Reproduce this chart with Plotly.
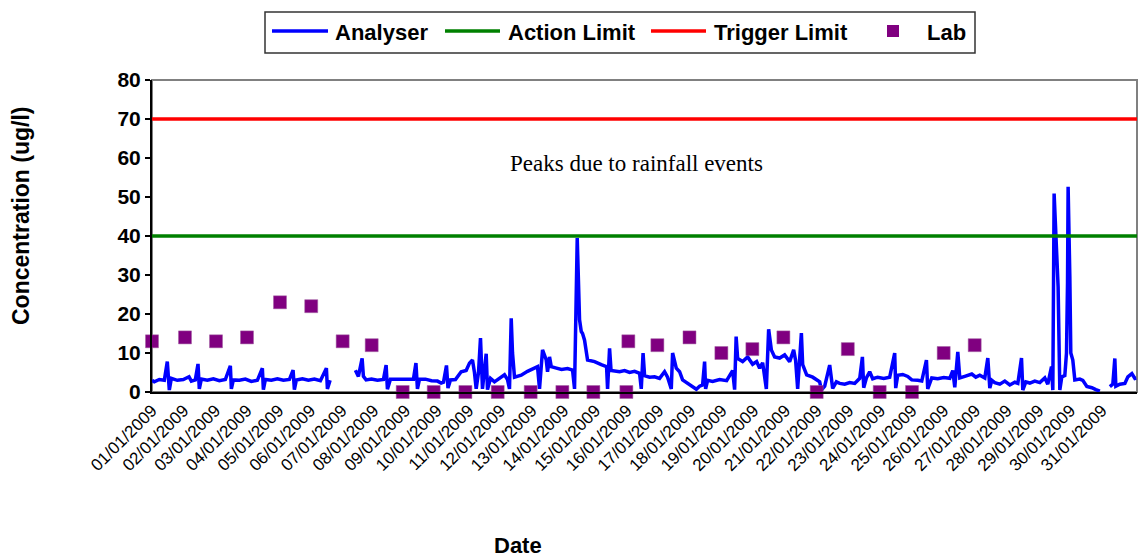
import pandas as pd
import plotly.graph_objects as go

# ---- data ----
start = pd.Timestamp("2009-01-01")
tick_dates = pd.date_range("2009-01-01", "2009-01-31", freq="D")

# Analyser: time as days since 01/01/2009 00:00, value in ug/l (None = no data)
analyser_days = [
    0.000, 0.073, 0.231, 0.389, 0.483, 0.515, 0.547, 0.610, 0.799, 0.989,
    1.169, 1.242, 1.368, 1.453, 1.494, 1.558, 1.747, 1.937, 2.126, 2.316,
    2.474, 2.506, 2.569, 2.758, 2.948, 3.137, 3.327, 3.485, 3.517, 3.580,
    3.769, 3.959, 4.149, 4.338, 4.455, 4.496, 4.559, 4.749, 4.938, 5.128,
    5.318, 5.507, 5.539, 5.624, 6.000,
    6.423, 6.518, 6.635, 6.676, 6.761, 6.929, 7.118, 7.308, 7.393, 7.434,
    7.529, 7.719, 7.908, 8.098, 8.256, 8.335, 8.382, 8.446, 8.635, 8.825,
    9.014, 9.131, 9.204, 9.299, 9.346, 9.425, 9.583, 9.763, 9.921, 10.025,
    10.120, 10.183, 10.237, 10.310, 10.373, 10.436, 10.553, 10.594, 10.689, 10.815,
    10.973, 11.131, 11.226, 11.289, 11.343, 11.384, 11.447, 11.659, 11.858, 12.047,
    12.174, 12.237, 12.332, 12.449, 12.490, 12.553, 12.607, 12.743, 12.932, 13.122,
    13.280, 13.343, 13.428, 13.501, 13.555, 13.596, 13.659, 13.754, 13.975, 14.187,
    14.354, 14.386, 14.449, 14.496, 14.607, 14.765, 14.923, 15.081, 15.239, 15.397,
    15.450, 15.507, 15.555, 15.713, 15.870, 16.028, 16.186, 16.281, 16.398, 16.439,
    16.556, 16.660, 16.755, 16.976, 17.188, 17.292, 17.387, 17.450, 17.482, 17.545,
    17.703, 17.924, 18.146, 18.240, 18.335, 18.398, 18.446, 18.493, 18.651, 18.809,
    18.967, 19.093, 19.188, 19.283, 19.400, 19.472, 19.558, 19.662, 19.820, 19.978,
    20.041, 20.136, 20.262, 20.325, 20.389, 20.506, 20.547, 20.673, 20.863, 21.084,
    21.137, 21.242, 21.400, 21.453, 21.494, 21.611, 21.716, 21.874, 22.032, 22.190,
    22.348, 22.433, 22.474, 22.559, 22.663, 22.758, 22.916, 23.106, 23.295, 23.453,
    23.485, 23.548, 23.706, 23.864, 23.991, 24.180, 24.307, 24.455, 24.496, 24.623,
    24.812, 25.002, 25.192, 25.287, 25.350, 25.445, 25.508, 25.666, 25.887, 26.014,
    26.140, 26.298, 26.393, 26.456, 26.519, 26.614, 26.772, 26.930, 27.088, 27.246,
    27.341, 27.457, 27.498, 27.593, 27.719, 27.877, 28.035, 28.193, 28.288, 28.405,
    28.446, 28.487, 28.613, 28.667, 28.730, 28.825, 28.878, 28.910, 28.929, 28.983,
    29.014, 29.077, 29.141, 29.299, 29.393, 29.520, 29.678, 29.804, 29.931, 30.100,
    30.247, 30.341, 30.404, 30.436, 30.563, 30.721, 30.816, 30.942, 31.037, 31.080,
]
analyser_vals = [
    3.0, 2.6, 3.2, 3.0, 7.8, 5.0, 0.5, 3.5, 3.0, 3.2,
    3.9, 2.8, 3.1, 7.2, 0.8, 3.3, 3.0, 3.4, 2.9, 3.2,
    6.7, 0.8, 3.1, 3.0, 3.3, 2.7, 3.0, 6.1, 0.6, 3.2,
    3.0, 3.4, 3.0, 3.2, 5.6, 0.6, 3.1, 3.4, 3.0, 3.3,
    2.9, 6.1, 0.8, 3.0, None,
    5.6, 4.0, 8.6, 4.0, 3.1, 3.3, 3.0, 3.2, 6.9, 0.7,
    3.3, 3.3, 3.4, 3.2, 3.3, 7.4, 0.8, 3.3, 3.3, 2.9,
    2.8, 2.3, 2.5, 6.8, 1.0, 3.1, 3.2, 5.2, 5.5, 7.4,
    8.2, 5.0, 0.8, 5.0, 13.8, 0.8, 9.8, 0.6, 3.5, 2.6,
    3.4, 4.4, 3.2, 0.8, 18.9, 10.0, 3.8, 4.3, 5.3, 6.0,
    6.5, 0.8, 10.8, 8.2, 5.2, 9.0, 6.5, 6.2, 5.8, 6.0,
    5.6, 0.8, 39.5, 18.5, 15.5, 15.0, 13.3, 8.2, 7.8, 7.0,
    6.5, 0.8, 11.2, 5.5, 5.4, 5.2, 5.5, 5.0, 5.3, 4.8,
    0.8, 10.0, 4.2, 3.8, 3.9, 3.5, 5.2, 3.8, 0.8, 10.0,
    6.1, 5.2, 3.1, 1.8, 0.7, 1.5, 1.8, 7.8, 0.8, 3.0,
    2.7, 3.2, 2.9, 4.2, 5.5, 0.6, 14.2, 8.6, 7.8, 9.0,
    7.1, 7.8, 6.1, 7.5, 0.8, 16.1, 10.8, 9.0, 8.7, 9.5,
    8.8, 7.8, 10.8, 8.0, 0.8, 15.1, 7.0, 4.4, 3.8, 2.6,
    0.5, 1.5, 6.9, 3.1, 0.9, 2.6, 2.2, 2.0, 2.4, 2.2,
    3.5, 9.0, 1.1, 3.6, 5.2, 3.4, 3.8, 3.5, 3.8, 10.0,
    1.0, 4.3, 4.5, 4.0, 3.1, 3.0, 2.8, 8.2, 0.8, 3.6,
    3.4, 3.7, 3.5, 5.5, 1.2, 10.3, 3.6, 4.0, 4.6, 3.8,
    4.3, 3.6, 8.7, 1.0, 3.0, 2.4, 2.0, 2.8, 1.8, 2.5,
    2.2, 8.7, 0.5, 2.6, 2.3, 2.8, 2.4, 3.6, 2.0, 6.5,
    0.5, 50.9, 27.0, 0.5, 3.9, 4.2, 10.0, 28.0, 52.6, 29.6,
    10.0, 8.2, 3.1, 3.3, 3.0, 1.4, 1.1, 0.6, 0.2, None,
    1.4, 2.0, 8.6, 1.5, 2.0, 2.2, 3.9, 4.7, 3.5, 3.6,
]

# Lab samples
lab_dates = [
    "2009-01-01 00:00", "2009-01-02 01:00", "2009-01-03 00:30", "2009-01-04 00:00",
    "2009-01-05 01:00", "2009-01-06 00:40", "2009-01-07 00:30", "2009-01-07 22:30",
    "2009-01-08 22:00", "2009-01-09 21:30", "2009-01-10 21:30", "2009-01-11 22:00",
    "2009-01-12 23:00", "2009-01-13 23:00", "2009-01-14 22:30", "2009-01-15 23:30",
    "2009-01-16 01:00", "2009-01-16 23:00", "2009-01-17 23:20", "2009-01-18 23:30",
    "2009-01-19 23:00", "2009-01-20 22:30", "2009-01-21 23:45", "2009-01-22 23:20",
    "2009-01-23 23:30", "2009-01-25 00:00", "2009-01-26 00:00", "2009-01-26 23:30",
]
lab_vals = [13, 14, 13, 14, 23, 22, 13, 12, 0, 0, 0, 0, 0, 0, 0, 0,
            13, 12, 14, 10, 11, 14, 0, 11, 0, 0, 10, 12]

action_limit = 40
trigger_limit = 70
axis_start = "2009-01-01 00:00"
axis_end = "2009-02-01 02:30"

series_names = ["Analyser", "Action Limit", "Trigger Limit", "Lab"]
series_colors = ["#0000FF", "#008000", "#FF0000", "#800080"]

# ---- build ----
analyser_x = [start + pd.Timedelta(days=d) for d in analyser_days]
limit_x = [axis_start, axis_end]
tick_text = [d.strftime("%d/%m/%Y") for d in tick_dates]

fig = go.Figure()
fig.add_trace(go.Scatter(x=analyser_x, y=analyser_vals, mode="lines", name=series_names[0],
                         line=dict(color=series_colors[0], width=3.5), connectgaps=False))
fig.add_trace(go.Scatter(x=limit_x, y=[action_limit] * 2, mode="lines", name=series_names[1],
                         line=dict(color=series_colors[1], width=3.5)))
fig.add_trace(go.Scatter(x=limit_x, y=[trigger_limit] * 2, mode="lines", name=series_names[2],
                         line=dict(color=series_colors[2], width=3.5)))
fig.add_trace(go.Scatter(x=lab_dates, y=lab_vals, mode="markers", name=series_names[3],
                         marker=dict(symbol="square", size=13, color=series_colors[3],
                                     line=dict(color="#A060A0", width=0.5)),
                         cliponaxis=False))

W, H = 1146, 559
L, R, T, B = 152, 9, 80, 167
pw, ph = W - L - R, H - T - B

def px_x(px):
    return (px - L) / pw

def px_y(py):
    return (H - B - py) / ph

SANS = "Liberation Sans, Arial, sans-serif"

# plot-area border
fig.add_shape(type="rect", xref="paper", yref="paper", x0=0, x1=1, y0=0, y1=1,
              line=dict(color="#808080", width=2), layer="below")

# legend (drawn by hand to match the original key layout)
leg_y = 31
fig.add_shape(type="rect", xref="paper", yref="paper",
              x0=px_x(265), x1=px_x(975), y0=px_y(53), y1=px_y(12),
              line=dict(color="#333333", width=1.5), fillcolor="white", layer="above")
line_spans = [(272, 328), (445, 500), (651, 706)]
text_left = [333, 506, 712, 925]
for i, (a, b) in enumerate(line_spans):
    fig.add_shape(type="line", xref="paper", yref="paper",
                  x0=px_x(a), x1=px_x(b), y0=px_y(leg_y), y1=px_y(leg_y),
                  line=dict(color=series_colors[i], width=3.5))
fig.add_shape(type="rect", xref="paper", yref="paper",
              x0=px_x(887), x1=px_x(899), y0=px_y(leg_y + 6), y1=px_y(leg_y - 6),
              line=dict(width=0), fillcolor=series_colors[3])
for name, xl in zip(series_names, text_left):
    fig.add_annotation(text=name, xref="paper", yref="paper", x=px_x(xl), y=px_y(leg_y + 1),
                       xanchor="left", yanchor="middle", showarrow=False,
                       font=dict(family=SANS, size=22, color="black", weight="bold"))

fig.add_annotation(text="Peaks due to rainfall events", xref="paper", yref="paper",
                   x=px_x(636), y=px_y(163), xanchor="center", yanchor="middle", showarrow=False,
                   font=dict(family="Liberation Serif, Times New Roman, serif", size=23, color="black"))
fig.add_annotation(text="Concentration (ug/l)", xref="paper", yref="paper",
                   x=px_x(21), y=px_y(216), xanchor="center", yanchor="middle",
                   showarrow=False, textangle=-90,
                   font=dict(family=SANS, size=23, color="black", weight="bold"))
fig.add_annotation(text="Date", xref="paper", yref="paper",
                   x=px_x(518), y=px_y(545), xanchor="center", yanchor="middle", showarrow=False,
                   font=dict(family=SANS, size=22, color="black", weight="bold"))

fig.update_layout(
    width=W, height=H,
    margin=dict(l=L, r=R, t=T, b=B),
    paper_bgcolor="white", plot_bgcolor="white",
    showlegend=False,
    xaxis=dict(type="date", range=[axis_start, axis_end],
               tickvals=list(tick_dates), ticktext=tick_text, tickangle=-45,
               showgrid=False, zeroline=False, showline=True, linecolor="black", linewidth=2,
               ticks="", tickfont=dict(family=SANS, size=17, color="black")),
    yaxis=dict(range=[0, 80], dtick=10, showgrid=False, zeroline=False,
               showline=True, linecolor="black", linewidth=2,
               ticks="outside", ticklen=5, tickcolor="black", tickwidth=1.5,
               tickfont=dict(family=SANS, size=21, color="black", weight="bold")),
)

fig.write_html("out.html", config={"displayModeBar": False},
               post_script="document.body.style.margin='0';")
